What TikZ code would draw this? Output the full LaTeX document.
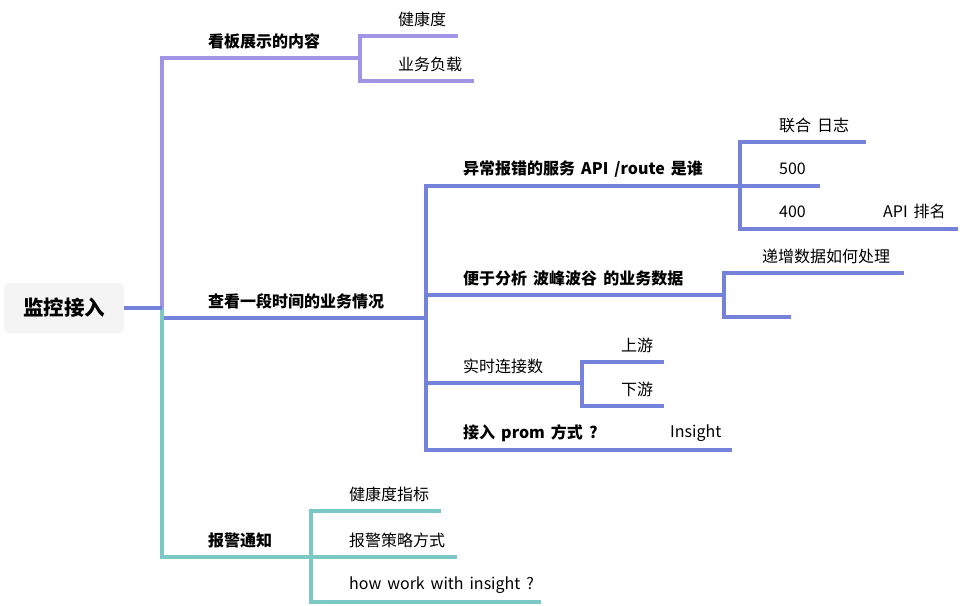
\documentclass[tikz,border=0pt]{standalone}
\usepackage{fontspec}
\setmainfont[WordSpace=1.65]{Noto Sans CJK SC}
\usepackage{xcolor}
\usepackage{tikz}
\usetikzlibrary{positioning,calc}

\definecolor{lavender}{HTML}{A294E4}
\definecolor{bluebranch}{HTML}{7582DB}
\definecolor{tealbranch}{HTML}{7BC8C4}
\definecolor{rootgray}{HTML}{F4F4F4}

\tikzset{
  branch/.style={line width=3.3pt, line join=miter},
  topic/.style={anchor=west, inner sep=0pt, font=\fontsize{16}{19}\selectfont},
  maintopic/.style={topic, font=\bfseries\fontsize{16}{19}\selectfont},
  rootbox/.style={fill=rootgray, rounded corners=5pt, minimum width=120pt,
    minimum height=50pt, font=\bfseries\fontsize{20.5}{24}\selectfont}
}

\begin{document}
\begin{tikzpicture}[x=1pt,y=-1pt]
    \useasboundingbox (0,0) rectangle (960,605);

    % Root
    \node[rootbox] (root) at (64,308) {监控接入};
    \coordinate (hub) at (162,308);

    % Level 1 (blue first, so the others lie on top)
    \coordinate (see j) at (426,318);
    \node[maintopic] (see) at (208,301) {查看一段时间的业务情况};
    \draw[branch,bluebranch] (hub) |- (see j);

    \coordinate (board j) at (360,58);
    \node[maintopic] (board) at (208,41) {看板展示的内容};
    \draw[branch,lavender] (hub) |- (board j);

    \coordinate (alarm j) at (311,557);
    \node[maintopic] (alarm) at (208,540) {报警通知};
    \draw[branch,tealbranch] (hub) |- (alarm j);

    \draw[branch,bluebranch] (root.east) -- (hub);

    % Board children
    \foreach \y/\e/\t [count=\i] in {36/458/健康度, 81/474/业务负载} {
        \node[topic] (board-\i) at (398,\y-17) {\t};
        \coordinate (board-\i e) at (\e,\y);
        \draw[branch,lavender] (board j) |- (board-\i e);
    }

    % Level 2 under see
    \coordinate (err j) at (740,186);
    \coordinate (peak j) at (724,295);
    \coordinate (conn j) at (582,383);
    \coordinate (prom e) at (732,450);
    \node[maintopic] (err) at (463,169) {异常报错的服务 API /route 是谁};
    \node[maintopic] (peak) at (463,278) {便于分析 波峰波谷 的业务数据};
    \node[topic] (conn) at (463,366) {实时连接数};
    \node[maintopic] (prom) at (463,433) {接入 prom 方式 ?};
    \node[topic] (insight) at (670,433) {Insight};
    \foreach \p in {err j, peak j, conn j, prom e} {
        \draw[branch,bluebranch] (see j) |- (\p);
    }

    % Error children
    \foreach \y/\e/\t [count=\i] in {142/866/联合 日志, 186/820/500, 229/958/400} {
        \node[topic] (err-\i) at (779,\y-17) {\t};
        \coordinate (err-\i e) at (\e,\y);
        \draw[branch,bluebranch] (err j) |- (err-\i e);
    }
    \node[topic] (rank) at (883,211) {API 排名};

    % Peak children
    \node[topic] (peak-1) at (762,256) {递增数据如何处理};
    \coordinate (peak-1 e) at (904,273);
    \coordinate (peak-2 e) at (791,317);
    \draw[branch,bluebranch] (peak j) |- (peak-1 e);
    \draw[branch,bluebranch] (peak j) |- (peak-2 e);

    % Connection children
    \foreach \y/\t [count=\i] in {362/上游, 406/下游} {
        \node[topic] (conn-\i) at (621,\y-17) {\t};
        \coordinate (conn-\i e) at (664,\y);
        \draw[branch,bluebranch] (conn j) |- (conn-\i e);
    }

    % Alarm children
    \foreach \y/\e/\t [count=\i] in {511/441/健康度指标, 557/457/报警策略方式, 602/541/how work with insight ?} {
        \node[topic] (alarm-\i) at (349,\y-17) {\t};
        \coordinate (alarm-\i e) at (\e,\y);
        \draw[branch,tealbranch] (alarm j) |- (alarm-\i e);
    }
\end{tikzpicture}
\end{document}
